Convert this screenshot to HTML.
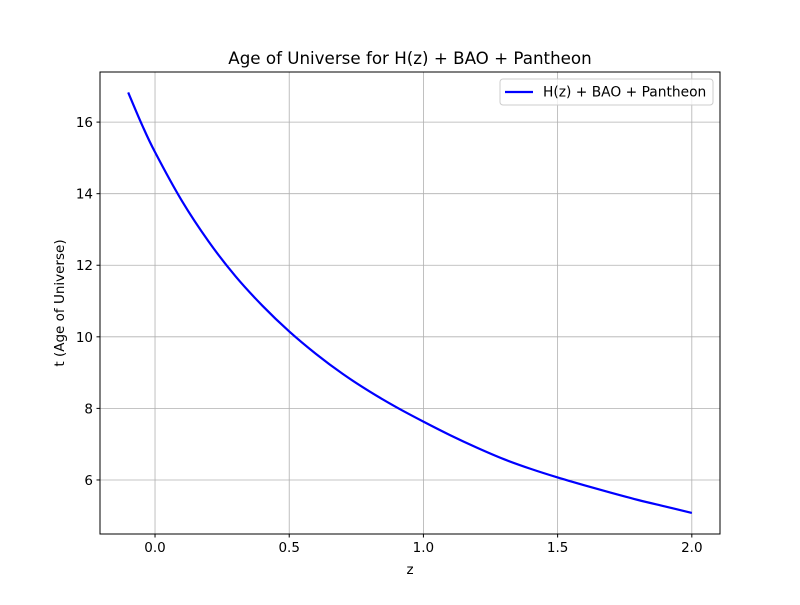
<!DOCTYPE html>
<html><head><meta charset="utf-8"><style>
body{margin:0;background:#fff}
svg text{font-family:"DejaVu Sans","Liberation Sans",sans-serif;fill:#000}
</style></head><body>
<svg id="chart" width="800" height="600" xmlns="http://www.w3.org/2000/svg">
<rect width="800" height="600" fill="#fff"/>
<g id="grid"></g>
<g id="axes"></g>
<path id="curve" fill="none" stroke="#0000ff" stroke-width="2.2"/>
<rect x="100" y="72" width="620" height="462" fill="none" stroke="#000" stroke-width="1"/>
<text x="410" y="64" font-size="16.7" text-anchor="middle">Age of Universe for H(z) + BAO + Pantheon</text>
<text x="410" y="574" font-size="13.5" text-anchor="middle">z</text>
<text x="64" y="303" font-size="13.5" text-anchor="middle" transform="rotate(-90 64 303)">t (Age of Universe)</text>
<g>
<rect x="500" y="79" width="213" height="26" rx="3" fill="#fff" fill-opacity="0.8" stroke="#ccc"/>
<line x1="505" y1="92" x2="533" y2="92" stroke="#0000ff" stroke-width="2.2"/>
<text x="543" y="96.5" font-size="13.8">H(z) + BAO + Pantheon</text>
</g>
</svg>
<script>
const zValues=[-0.1,-0.05,0,0.1,0.2,0.3,0.4,0.5,0.6,0.7,0.8,0.9,1.0,1.1,1.2,1.3,1.4,1.5,1.6,1.7,1.8,1.9,2.0];
const tValues=[16.83,15.95,15.16,13.80,12.66,11.69,10.87,10.15,9.52,8.96,8.47,8.03,7.63,7.25,6.90,6.58,6.31,6.07,5.85,5.64,5.44,5.26,5.08];
const xTicks=[0,0.5,1.0,1.5,2.0];
const xTickLabels=["0.0","0.5","1.0","1.5","2.0"];
const yTicks=[6,8,10,12,14,16];
const yTickLabels=["6","8","10","12","14","16"];
const X0=100,X1=720,Y0=72,Y1=534;
const xmin=-0.205,xmax=2.105,ymin=4.49,ymax=17.40;
const sx=v=>X0+(v-xmin)/(xmax-xmin)*(X1-X0);
const sy=v=>Y1-(v-ymin)/(ymax-ymin)*(Y1-Y0);
const NS="http://www.w3.org/2000/svg";
const grid=document.getElementById('grid'),axes=document.getElementById('axes');
function mk(tag,attrs,parent){const e=document.createElementNS(NS,tag);for(const k in attrs)e.setAttribute(k,attrs[k]);parent.appendChild(e);return e;}
xTicks.forEach((v,i)=>{const x=sx(v);
 const g=mk('line',{x1:x,x2:x,y1:Y0,y2:Y1,stroke:'#b0b0b0','stroke-width':0.8},grid);
 
 
 const t=mk('line',{x1:x,x2:x,y1:Y1,y2:Y1+3.5,stroke:'#000'},axes);
 
 
 const l=mk('text',{x:x,y:Y1+18,'font-size':13.5,'text-anchor':'middle'},axes);l.textContent=xTickLabels[i];
 
 
});
yTicks.forEach((v,i)=>{const y=sy(v);
 const g=mk('line',{x1:X0,x2:X1,y1:y,y2:y,stroke:'#b0b0b0','stroke-width':0.8},grid);
 
 
 const t=mk('line',{x1:X0-3.5,x2:X0,y1:y,y2:y,stroke:'#000'},axes);
 
 
 const l=mk('text',{x:X0-7,y:y+5,'font-size':13.5,'text-anchor':'end'},axes);l.textContent=yTickLabels[i];
 
 
});
const P=zValues.map((z,i)=>[sx(z),sy(tValues[i])]);
let d='M'+P[0][0]+','+P[0][1];
for(let i=0;i<P.length-1;i++){
 const p0=P[Math.max(i-1,0)],p1=P[i],p2=P[i+1],p3=P[Math.min(i+2,P.length-1)];
 const c1=[p1[0]+(p2[0]-p0[0])/6,p1[1]+(p2[1]-p0[1])/6];
 const c2=[p2[0]-(p3[0]-p1[0])/6,p2[1]-(p3[1]-p1[1])/6];
 d+=' C'+c1.join(',')+' '+c2.join(',')+' '+p2.join(',');
}
document.getElementById('curve').setAttribute('d',d);
</script>
</body></html>
